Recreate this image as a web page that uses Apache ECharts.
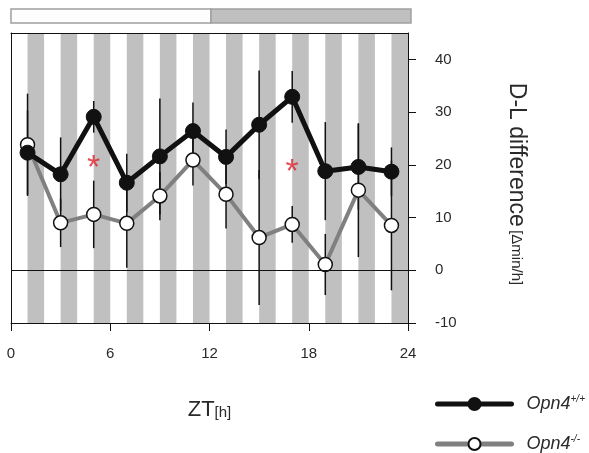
<!DOCTYPE html>
<html><head><meta charset="utf-8">
<script src="https://cdn.jsdelivr.net/npm/echarts@6/dist/echarts.min.js"></script>
<style>html,body{margin:0;padding:0;background:#fff}#c{width:589px;height:453px}</style>
</head><body><div id="c"></div>
<script>
const hours = [1,3,5,7,9,11,13,15,17,19,21,23];
const wtMean = [22.3,18.2,29.1,16.6,21.6,26.4,21.5,27.6,32.9,18.8,19.6,18.7];
const wtErr  = [8.0,7.0,3.0,5.5,11.0,5.4,5.2,10.3,4.9,9.3,8.1,4.6];
const koMean = [23.8,9.0,10.6,8.9,14.1,20.9,14.4,6.2,8.7,1.1,15.2,8.5];
const koErr  = [9.7,4.6,6.4,8.4,4.6,4.8,6.5,12.8,3.5,5.8,12.7,12.3];
const stripeStart = [1,3,5,7,9,11,13,15,17,19,21,23];
const stripeEnd   = [2,4,6,8,10,12,14,16,18,20,22,24];
const phaseStart = [0,12];
const phaseEnd = [12,24];
const phaseName = ['light','dark'];
const sigHours = [5,17];
const sigY = [20.7,19.9];
const xTicks = [0,6,12,18,24];
const yTicks = [-10,0,10,20,30,40];
const seriesNames = ['Opn4+/+','Opn4-/-'];

const chart = echarts.init(document.getElementById('c'), null, {renderer:'canvas'});
const FONT = 'Liberation Sans';
const TXT = '#2a2a2a';

function errData(m, e){ return hours.map((h,i)=>[h, m[i]-e[i], m[i]+e[i]]); }
function errRender(params, api){
  const p1 = api.coord([api.value(0), api.value(1)]);
  const p2 = api.coord([api.value(0), api.value(2)]);
  return {type:'line', shape:{x1:p1[0],y1:p1[1],x2:p2[0],y2:p2[1]}, style:{stroke:'#111', lineWidth:1.5}};
}
function legendFor(idx, top, width){
  return {
    orient:'vertical', left:435, top:top, itemWidth:74, itemHeight:15, padding:0,
    data:[seriesNames[idx]],
    lineStyle:{width:width, cap:'round'},
    formatter: n => '{i|Opn4}{s|' + n.slice(4) + '}',
    textStyle:{padding:[0,0,0,10], rich:{i:{fontSize:18, fontStyle:'italic', color:TXT, fontFamily:FONT},
                     s:{fontSize:10, fontStyle:'italic', color:TXT, fontFamily:FONT, verticalAlign:'top', padding:[0,0,10,0]}}}
  };
}

const option = {
  animation:false,
  backgroundColor:'#fff',
  textStyle:{fontFamily:FONT},
  grid:[
    {left:11, right:181, top:33, bottom:130, show:false},
    {left:11, right:178, top:9, height:14, show:false}
  ],
  xAxis:[
    {type:'value', gridIndex:0, min:0, max:24, interval:6, z:10,
     axisLine:{show:true, onZero:false, lineStyle:{color:'#111', width:1}},
     axisTick:{show:true, length:8, lineStyle:{color:'#111'}},
     axisLabel:{margin:23, fontSize:15, color:TXT, fontFamily:FONT},
     splitLine:{show:false},
     name:'{a|ZT}{b|[h]}', nameLocation:'middle', nameGap:76,
     nameTextStyle:{rich:{a:{fontSize:22,color:TXT,fontFamily:FONT}, b:{fontSize:15,color:TXT,fontFamily:FONT, padding:[6,0,0,0]}}}
    },
    {type:'value', gridIndex:0, position:'top', min:0, max:24, z:10,
     axisLine:{show:true, onZero:false, lineStyle:{color:'#111', width:1}},
     axisTick:{show:false}, axisLabel:{show:false}, splitLine:{show:false}},
    {type:'value', gridIndex:1, min:0, max:24, show:false}
  ],
  yAxis:[
    {type:'value', gridIndex:0, position:'right', min:-10, max:45, interval:10, z:10,
     axisLine:{show:true, onZero:false, lineStyle:{color:'#111', width:1}},
     axisTick:{show:true, length:8, lineStyle:{color:'#111'}},
     axisLabel:{margin:27, fontSize:15, color:TXT, fontFamily:FONT, showMaxLabel:false,
       formatter: v => yTicks.indexOf(v) >= 0 ? String(v) : ''},
     splitLine:{show:false},
     name:'{a|D-L difference} {b|[Δmin/h]}', nameLocation:'middle', nameRotate:-90, nameGap:97,
     nameTextStyle:{padding:[0,0,0,12], rich:{a:{fontSize:23,color:TXT,fontFamily:FONT}, b:{fontSize:15,color:TXT,fontFamily:FONT}}}
    },
    {type:'value', gridIndex:0, position:'left', min:-10, max:45, z:10,
     axisLine:{show:true, onZero:false, lineStyle:{color:'#111', width:1}},
     axisTick:{show:false}, axisLabel:{show:false}, splitLine:{show:false}},
    {type:'value', gridIndex:1, min:0, max:1, show:false}
  ],
  legend:[legendFor(0, 394, 5), legendFor(1, 434, 5)],
  series:[
    {type:'custom', xAxisIndex:2, yAxisIndex:2, silent:true,
     data: phaseStart.map((s,i)=>[s, phaseEnd[i], i]),
     renderItem:(params, api)=>{
       const p1 = api.coord([api.value(0), 1]);
       const p2 = api.coord([api.value(1), 0]);
       const dark = phaseName[api.value(2)] === 'dark';
       return {type:'rect', shape:{x:p1[0], y:p1[1], width:p2[0]-p1[0], height:p2[1]-p1[1]},
         style:{fill: dark ? '#c0c0c0' : '#fdfdfd', stroke:'#a0a0a0', lineWidth:1.5}};
     }},
    {type:'custom', xAxisIndex:0, yAxisIndex:0, silent:true, z:0,
     data: stripeStart.map((s,i)=>[s, stripeEnd[i]]),
     renderItem:(params, api)=>{
       const p1 = api.coord([api.value(0), 45]);
       const p2 = api.coord([api.value(1), -10]);
       return {type:'rect', shape:{x:p1[0], y:p1[1], width:p2[0]-p1[0], height:p2[1]-p1[1]},
         style:{fill:'#c0c0c0'}};
     },
     markLine:{silent:true, symbol:'none', label:{show:false}, lineStyle:{color:'#111', width:1, type:'solid'}, data:[{yAxis:0}]}
    },
    {type:'custom', name:'errKO', xAxisIndex:0, yAxisIndex:0, silent:true, z:1, data:errData(koMean, koErr), renderItem:errRender},
    {type:'custom', name:'errWT', xAxisIndex:0, yAxisIndex:0, silent:true, z:1, data:errData(wtMean, wtErr), renderItem:errRender},
    {type:'line', name:seriesNames[1], xAxisIndex:0, yAxisIndex:0, z:3,
     data: hours.map((h,i)=>[h, koMean[i]]),
     lineStyle:{color:'#808080', width:4}, symbol:'circle', symbolSize:14,
     itemStyle:{color:'#ffffff', borderColor:'#111', borderWidth:1.5}},
    {type:'line', name:seriesNames[0], xAxisIndex:0, yAxisIndex:0, z:4,
     data: hours.map((h,i)=>[h, wtMean[i]]),
     lineStyle:{color:'#111', width:5}, symbol:'circle', symbolSize:15,
     itemStyle:{color:'#111', borderColor:'#111', borderWidth:1}},
    {type:'scatter', xAxisIndex:0, yAxisIndex:0, z:5, silent:true, symbolSize:1,
     itemStyle:{color:'rgba(0,0,0,0)'},
     data: sigHours.map((h,i)=>[h, sigY[i]]),
     label:{show:true, formatter:'*', position:'inside', color:'#e0202a', fontSize:34, fontFamily:FONT, offset:[0,7]}}
  ]
};
chart.setOption(option);
</script></body></html>
